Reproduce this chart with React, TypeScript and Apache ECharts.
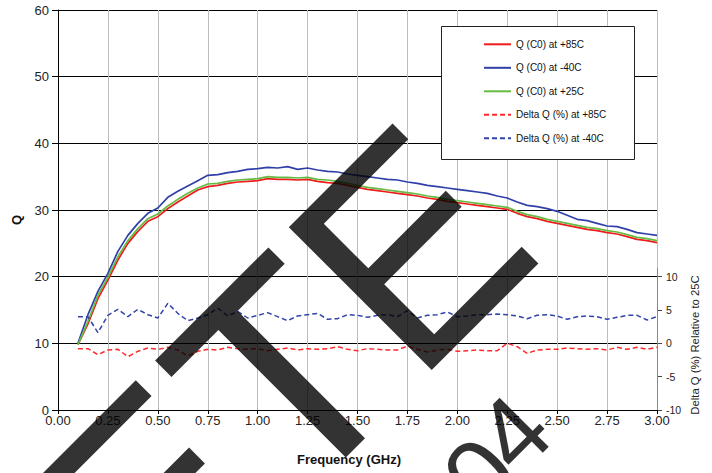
import React, { useEffect, useRef } from "react";
import * as echarts from "echarts";

const FONT = "'Liberation Sans', Arial, Helvetica, sans-serif";

const freq = [0.10,0.15,0.20,0.25,0.30,0.35,0.40,0.45,0.50,0.55,0.60,0.65,0.70,0.75,0.80,0.85,0.90,0.95,1.00,1.05,1.10,1.15,1.20,1.25,1.30,1.35,1.40,1.45,1.50,1.55,1.60,1.65,1.70,1.75,1.80,1.85,1.90,1.95,2.00,2.05,2.10,2.15,2.20,2.25,2.30,2.35,2.40,2.45,2.50,2.55,2.60,2.65,2.70,2.75,2.80,2.85,2.90,2.95,3.00];

const q85 = [9.8,12.9,16.7,19.5,22.5,25.0,26.8,28.3,29.0,30.2,31.2,32.1,33.0,33.5,33.7,34.0,34.2,34.3,34.4,34.7,34.6,34.6,34.5,34.6,34.3,34.1,34.0,33.7,33.4,33.1,32.9,32.7,32.5,32.3,32.1,31.8,31.6,31.3,31.1,30.9,30.7,30.5,30.3,30.1,29.5,29.0,28.7,28.3,28.0,27.7,27.4,27.1,26.9,26.6,26.4,26.0,25.6,25.4,25.1];
const qm40 = [10.0,14.3,17.8,20.5,23.8,26.2,28.0,29.5,30.3,31.9,32.8,33.6,34.4,35.2,35.3,35.6,35.8,36.1,36.2,36.4,36.3,36.5,36.1,36.3,36.0,35.8,35.7,35.4,35.2,35.0,34.8,34.6,34.5,34.2,34.0,33.7,33.5,33.3,33.1,32.9,32.7,32.5,32.1,31.8,31.2,30.7,30.5,30.2,29.8,29.2,28.6,28.4,28.0,27.6,27.5,27.1,26.6,26.4,26.2];
const q25 = [9.8,13.3,17.2,19.9,23.0,25.4,27.2,28.7,29.4,30.6,31.6,32.5,33.3,33.9,34.0,34.3,34.5,34.6,34.7,35.0,34.9,34.9,34.8,34.9,34.6,34.5,34.3,34.0,33.7,33.4,33.2,33.0,32.8,32.6,32.4,32.1,31.9,31.6,31.4,31.2,31.0,30.8,30.6,30.4,29.8,29.3,29.0,28.6,28.3,28.0,27.7,27.4,27.2,26.9,26.7,26.3,25.9,25.7,25.4];
const dq85 = [-0.8,-0.8,-1.7,-1.0,-0.9,-2.0,-1.2,-0.7,-0.9,-0.6,-1.0,-1.9,-1.2,-0.9,-1.0,-0.6,-0.8,-0.9,-0.8,-1.1,-0.9,-0.7,-1.0,-0.8,-0.9,-0.8,-0.5,-0.9,-1.1,-0.8,-0.9,-1.0,-1.0,-0.4,-0.9,-1.3,-1.0,-0.9,-1.2,-1.1,-1.0,-1.1,-1.1,0.0,-0.5,-1.5,-1.0,-0.9,-0.9,-0.7,-0.8,-0.9,-0.8,-1.0,-0.6,-0.9,-0.6,-0.9,-0.6];
const dqm40 = [4.0,4.0,1.6,4.2,5.1,4.0,5.1,4.3,3.8,6.0,4.5,3.4,3.8,4.3,5.3,4.1,4.8,3.8,4.2,4.6,4.0,3.4,4.1,4.3,4.5,3.6,3.7,4.3,4.2,3.9,4.2,4.3,4.0,4.9,3.8,4.2,4.3,4.7,4.0,4.1,4.3,4.3,4.4,4.3,4.1,3.7,4.2,4.3,4.1,3.6,4.0,4.1,4.0,3.6,3.9,4.2,4.2,3.5,4.0];

const seriesNames = ["Q (C0) at +85C", "Q (C0) at -40C", "Q (C0) at +25C", "Delta Q (%) at +85C", "Delta Q (%) at -40C"];
const rightTicks = [-10, -5, 0, 5, 10];

const WM = "rgba(0,0,0,0.8)";
const ePts = [[288.8,227.2],[392.5,123.5],[408.3,139.3],[323.8,223.8],[368.3,268.3],[445.8,190.8],[461.7,206.7],[384.2,284.2],[434.2,334.2],[521.7,246.7],[538.4,263.4],[431.7,370]];
const tPts = [[155.1,360.6],[268.4,247.4],[284.7,263.7],[237.6,310.9],[365,438.3],[345.8,457.5],[218.4,330],[171.5,376.9]];
const prevE = ePts.map(([x, y]) => [x - 256.75, y + 256.75]);

export default function App() {
  const ref = useRef<HTMLDivElement>(null);
  useEffect(() => {
    const chart = echarts.init(ref.current!, null, { renderer: "svg" });
    const pairs = (ys: number[]) => freq.map((f, i) => [f, ys[i]]);
    const option: any = {
      animation: false,
      backgroundColor: "#fff",
      textStyle: { fontFamily: FONT },
      grid: { left: 58, right: 55, top: 10, bottom: 63, containLabel: false },
      legend: {
        orient: "vertical",
        left: 478,
        top: 33.7,
        itemWidth: 27,
        itemHeight: 14,
        itemGap: 12.3,
        z: 6,
        itemStyle: { opacity: 0, borderWidth: 0 },
        textStyle: { fontSize: 10, color: "#111", fontFamily: FONT },
        data: seriesNames,
      },
      xAxis: {
        type: "value",
        min: 0,
        max: 3,
        interval: 0.25,
        axisLine: { show: true, onZero: false, lineStyle: { color: "#000", width: 1 } },
        axisTick: { show: true, length: 4, lineStyle: { color: "#000" } },
        axisLabel: { formatter: (v: number) => v.toFixed(2), color: "#222", fontSize: 13, margin: 4, fontFamily: FONT },
        splitLine: { show: true, lineStyle: { color: "#bdbdbd", width: 1 } },
      },
      yAxis: [
        {
          type: "value",
          min: 0,
          max: 60,
          interval: 10,
          position: "left",
          axisLine: { show: true, lineStyle: { color: "#000", width: 1 } },
          axisTick: { show: true, length: 6, lineStyle: { color: "#000" } },
          axisLabel: { color: "#222", fontSize: 13, margin: 9, fontFamily: FONT },
          splitLine: { show: true, lineStyle: { color: "#000", width: 1 } },
        },
        {
          type: "value",
          min: -10,
          max: 50,
          interval: 5,
          position: "right",
          axisLine: { show: false },
          axisTick: { show: true, length: 5, customValues: rightTicks, lineStyle: { color: "#444" } },
          axisLabel: { customValues: rightTicks, color: "#222", fontSize: 10.5, margin: 9, fontFamily: FONT },
          splitLine: { show: false },
        },
      ],
      series: [
        { name: seriesNames[0], type: "line", data: pairs(q85), yAxisIndex: 0, symbol: "none", lineStyle: { color: "#ee1c1c", width: 1.7 }, itemStyle: { color: "#ee1c1c" } },
        { name: seriesNames[1], type: "line", data: pairs(qm40), yAxisIndex: 0, symbol: "none", lineStyle: { color: "#3040a8", width: 1.7 }, itemStyle: { color: "#3040a8" } },
        { name: seriesNames[2], type: "line", data: pairs(q25), yAxisIndex: 0, symbol: "none", lineStyle: { color: "#66bb44", width: 1.7 }, itemStyle: { color: "#66bb44" } },
        {
          name: seriesNames[3], type: "line", data: pairs(dq85), yAxisIndex: 1, symbol: "none",
          lineStyle: { color: "#ff2a2a", width: 1.5, type: [5, 3] }, itemStyle: { color: "#ff2a2a" },
          markLine: {
            silent: true, symbol: "none", label: { show: false },
            lineStyle: { color: "#888", type: "solid", width: 1 },
            data: [[{ coord: [3, -10] }, { coord: [3, 11.3] }]],
          },
        },
        { name: seriesNames[4], type: "line", data: pairs(dqm40), yAxisIndex: 1, symbol: "none", lineStyle: { color: "#3344aa", width: 1.5, type: [5, 3] }, itemStyle: { color: "#3344aa" } },
      ],
      graphic: [
        { type: "rect", z: 5, shape: { x: 441.5, y: 26.5, width: 193, height: 133 }, style: { fill: "#fff", stroke: "#222", lineWidth: 1 } },
        { type: "text", z: 5, x: 61, y: -14.2, style: { text: "Q vs. Frequency (Temperature)", fontSize: 26, fontWeight: "bold", fontFamily: FONT, fill: "#111", align: "left", verticalAlign: "middle" } },
        { type: "text", z: 5, x: 16, y: 220, rotation: Math.PI / 2, style: { text: "Q", fontSize: 13, fontWeight: "bold", fontFamily: FONT, fill: "#111", align: "center", verticalAlign: "middle" } },
        { type: "text", z: 5, x: 349, y: 459, style: { text: "Frequency (GHz)", fontSize: 13, fontWeight: "bold", fontFamily: FONT, fill: "#111", align: "center", verticalAlign: "middle" } },
        { type: "text", z: 5, x: 695, y: 345, rotation: Math.PI / 2, style: { text: "Delta Q (%) Relative to 25C", fontSize: 11.3, fontFamily: FONT, fill: "#222", align: "center", verticalAlign: "middle" } },
        { type: "polygon", z: 100, shape: { points: ePts }, style: { fill: WM } },
        { type: "polygon", z: 100, shape: { points: tPts }, style: { fill: WM } },
        { type: "polygon", z: 100, shape: { points: prevE }, style: { fill: WM } },
        { type: "text", z: 100, x: 513, y: 433, rotation: Math.PI / 4, style: { text: "4", fontSize: 101, fontFamily: FONT, fill: WM, align: "center", verticalAlign: "middle" } },
        { type: "text", z: 100, x: 480, y: 475, rotation: Math.PI / 4, style: { text: "0", fontSize: 101, fontFamily: FONT, fill: WM, align: "center", verticalAlign: "middle" } },
      ],
    };
    chart.setOption(option);
    return () => chart.dispose();
  }, []);
  return <div ref={ref} style={{ position: "fixed", left: 0, top: 0, width: 712, height: 473 }} />;
}
